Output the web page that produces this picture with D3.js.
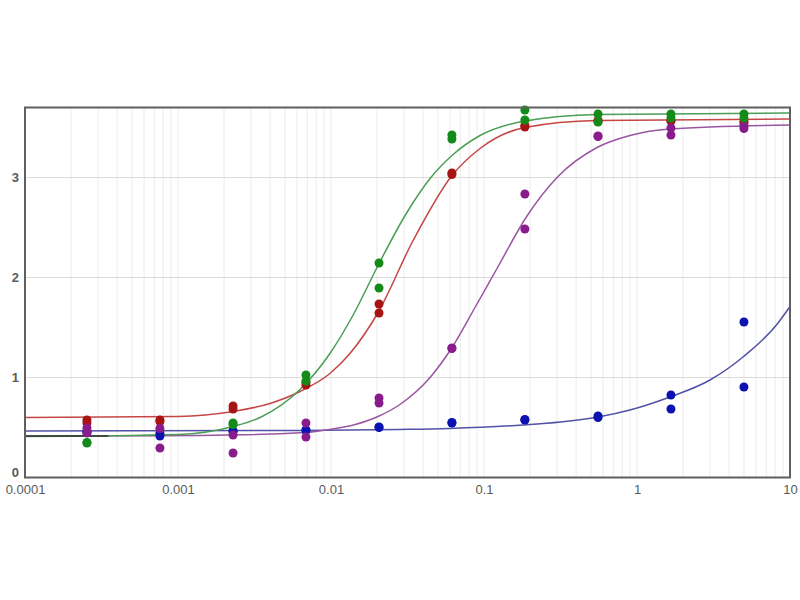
<!DOCTYPE html>
<html>
<head>
<meta charset="utf-8">
<script src="https://cdn.jsdelivr.net/npm/d3@7"></script>
<style>
  body { margin: 0; background: #fff; }
  .axis text { font-family: "Liberation Sans", Arial, sans-serif; font-size: 13px; fill: #5a5a5a; }
</style>
</head>
<body>
<div id="chart"></div>
<script>
// dilution series (x values)
var concentrations = [0.000254, 0.000762, 0.00229, 0.00686, 0.0206, 0.0617, 0.185, 0.556, 1.667, 5];

// replicate readings per series (null = not visible)
var greenA  = [0.345, null, 0.545, 1.025, 2.145, 3.425, 3.675, 3.635, 3.635, 3.635];
var greenB  = [0.35,  null, 0.53,  0.965, 1.895, 3.385, 3.575, 3.555, 3.595, 3.595];
var redA    = [0.575, 0.575, 0.715, 0.925, 1.735, 3.045, 3.505, 3.56, 3.565, 3.545];
var redB    = [0.545, 0.56,  0.685, 0.95,  1.645, 3.03,  3.52,  3.57, 3.57,  3.56];
var purpleA = [0.495, 0.49,  0.425, 0.545, 0.795, 1.295, 2.835, 3.415, 3.495, 3.515];
var purpleB = [0.445, 0.295, 0.245, 0.405, 0.745, 1.29,  2.485, 3.41,  3.425, 3.49];
var blueA   = [0.46,  0.415, 0.465, 0.475, 0.505, 0.545, 0.575, 0.615, 0.825, 1.555];
var blueB   = [0.45,  0.44,  0.46,  0.47,  0.50,  0.55,  0.58,  0.60,  0.685, 0.905];

// fitted curves as [x, y]
var greenCurve = [[0.0001, 0.41], [0.001, 0.43], [0.00229, 0.51], [0.00344, 0.60], [0.00627, 0.88],
  [0.00984, 1.24], [0.0139, 1.62], [0.0203, 2.12], [0.0305, 2.62], [0.0444, 2.99], [0.0628, 3.23],
  [0.0942, 3.42], [0.185, 3.565], [0.548, 3.63], [10, 3.645]];
var redCurve = [[0.0001, 0.60], [0.001, 0.61], [0.00229, 0.66], [0.00399, 0.74], [0.00627, 0.86],
  [0.00984, 1.04], [0.0133, 1.24], [0.0203, 1.65], [0.0344, 2.37], [0.0618, 3.02], [0.0942, 3.29],
  [0.185, 3.50], [0.548, 3.57], [10, 3.585]];
var purpleCurve = [[0.0001, 0.415], [0.00139, 0.42], [0.00676, 0.45], [0.0098, 0.48], [0.0144, 0.53],
  [0.0203, 0.61], [0.0282, 0.73], [0.0444, 1.0], [0.0618, 1.30], [0.0873, 1.70], [0.1216, 2.09],
  [0.19, 2.61], [0.30, 3.0], [0.548, 3.30], [0.90, 3.42], [1.64, 3.485], [10, 3.525]];
var blueCurve = [[0.0001, 0.465], [0.0062, 0.47], [0.028, 0.48], [0.059, 0.49], [0.18, 0.525],
  [0.316, 0.555], [0.556, 0.605], [0.90, 0.675], [1.64, 0.805], [3.0, 0.975], [4.93, 1.205],
  [8.2, 1.53], [10, 1.71]];
var blackSeg = [[0.0001, 0.415], [0.00035, 0.415]];

var xTickValues = [0.0001, 0.001, 0.01, 0.1, 1, 10];
var xTickLabels = ["0.0001", "0.001", "0.01", "0.1", "1", "10"];
var yTickValues = [0, 1, 2, 3];

var svgWidth = 800;
var svgHeight = 600;
var margin = { top: 107.5, right: 10, bottom: 122.5, left: 25 };

var svg = d3.select("#chart")
  .append("svg")
  .attr("width", svgWidth)
  .attr("height", svgHeight);

var xScale = d3.scaleLog()
  .domain([0.0001, 10])
  .range([margin.left, svgWidth - margin.right]);

var yScale = d3.scaleLinear()
  .domain([0, 3.7])
  .range([svgHeight - margin.bottom, margin.top]);

// grid lines
svg.append("g")
  .selectAll("line")
  .data(xScale.ticks())
  .enter()
  .append("line")
  .attr("x1", function(d) { return xScale(d); })
  .attr("x2", function(d) { return xScale(d); })
  .attr("y1", yScale(3.7))
  .attr("y2", yScale(0))
  .attr("stroke", "#d6d6d6")
  .attr("stroke-dasharray", "1,1");

svg.append("g")
  .selectAll("line")
  .data([1, 2, 3])
  .enter()
  .append("line")
  .attr("x1", xScale(0.0001))
  .attr("x2", xScale(10))
  .attr("y1", function(d) { return yScale(d); })
  .attr("y2", function(d) { return yScale(d); })
  .attr("stroke", "#dcdcdc");

// curves
var line = d3.line()
  .x(function(d) { return xScale(d[0]); })
  .y(function(d) { return yScale(d[1]); })
  .curve(d3.curveMonotoneX);

var curves = [
  { pts: blueCurve, color: "#5252a8" },
  { pts: purpleCurve, color: "#9a55a3" },
  { pts: redCurve, color: "#c64545" },
  { pts: greenCurve, color: "#4a9e55" },
  { pts: blackSeg, color: "#333333" }
];

curves.forEach(function(c) {
  svg.append("path")
    .datum(c.pts)
    .attr("d", line)
    .attr("fill", "none")
    .attr("stroke", c.color)
    .attr("stroke-width", 1.5);
});

// replicate points
var pointSets = [
  { reps: [blueA, blueB], color: "#0c12b0" },
  { reps: [redA, redB], color: "#a81414" },
  { reps: [purpleA, purpleB], color: "#881c8c" },
  { reps: [greenA, greenB], color: "#138a1a" }
];

pointSets.forEach(function(s) {
  var pts = [];
  s.reps.forEach(function(rep) {
    rep.forEach(function(v, i) {
      if (v !== null) pts.push([concentrations[i], v]);
    });
  });
  svg.append("g")
    .selectAll("circle")
    .data(pts)
    .enter()
    .append("circle")
    .attr("cx", function(d) { return xScale(d[0]); })
    .attr("cy", function(d) { return yScale(d[1]); })
    .attr("r", 4.5)
    .attr("fill", s.color);
});

// frame
svg.append("rect")
  .attr("x", xScale(0.0001))
  .attr("y", yScale(3.7))
  .attr("width", xScale(10) - xScale(0.0001))
  .attr("height", yScale(0) - yScale(3.7))
  .attr("fill", "none")
  .attr("stroke", "#5f5f5f")
  .attr("stroke-width", 2);

// axes
var xAxis = d3.axisBottom(xScale)
  .tickValues(xTickValues)
  .tickFormat(function(d, i) { return xTickLabels[i]; })
  .tickSize(0)
  .tickPadding(7);

var yAxis = d3.axisLeft(yScale)
  .tickValues(yTickValues)
  .tickFormat(d3.format("d"))
  .tickSize(0)
  .tickPadding(6);

var xAxisG = svg.append("g")
  .attr("class", "axis")
  .attr("transform", "translate(0," + yScale(0) + ")")
  .call(xAxis);
xAxisG.select(".domain").remove();

var yAxisG = svg.append("g")
  .attr("class", "axis")
  .attr("transform", "translate(" + xScale(0.0001) + ",0)")
  .call(yAxis);
yAxisG.select(".domain").remove();
yAxisG.selectAll("text").attr("font-weight", "bold");
// nudge the "0" label up so it clears the first x label
yAxisG.selectAll(".tick")
  .filter(function(d) { return d === 0; })
  .select("text")
  .attr("y", -5);
</script>
</body>
</html>
